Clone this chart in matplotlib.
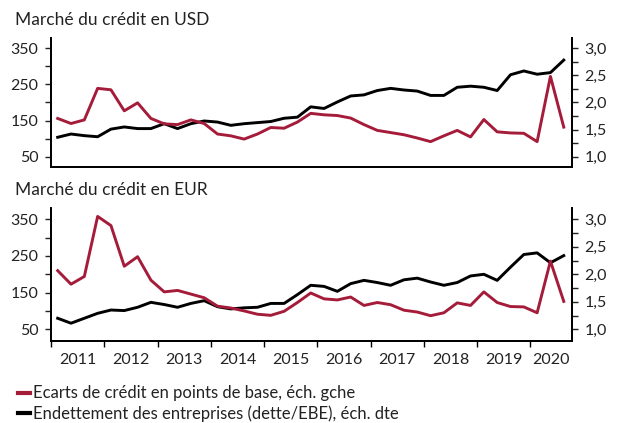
import numpy as np
import matplotlib.pyplot as plt
import matplotlib.ticker as mtick

plt.rcParams['font.family'] = ['Lato', 'DejaVu Sans']

RED = "#A51C3A"

# quarterly points, mid-quarter, Q1 2011 .. Q3 2020
dates = 2011.125 + 0.25 * np.arange(39)

usd_spread = [156, 142, 152, 239, 235, 177, 199, 156, 141, 139, 152, 142, 113,
              108, 99, 113, 131, 129, 146, 170, 166, 164, 157, 139, 123, 117,
              111, 102, 92, 108, 123, 105, 153, 119, 116, 115, 92, 272, 132]
usd_debt = [1.36, 1.42, 1.39, 1.37, 1.51, 1.55, 1.52, 1.52, 1.61, 1.52, 1.61, 1.66, 1.64,
            1.58, 1.61, 1.63, 1.65, 1.71, 1.73, 1.92, 1.89, 2.01, 2.12, 2.14, 2.22, 2.26,
            2.23, 2.21, 2.13, 2.13, 2.28, 2.30, 2.28, 2.22, 2.51, 2.58, 2.52, 2.55, 2.78]

eur_spread = [210, 173, 194, 358, 333, 222, 248, 184, 152, 156, 146, 136, 113,
              108, 100, 91, 88, 99, 123, 149, 133, 130, 138, 115, 123, 117,
              102, 97, 87, 95, 122, 115, 152, 123, 112, 111, 95, 236, 126]
eur_debt = [1.20, 1.11, 1.20, 1.29, 1.35, 1.34, 1.40, 1.49, 1.45, 1.40, 1.47, 1.52, 1.41,
            1.37, 1.39, 1.40, 1.47, 1.47, 1.63, 1.80, 1.78, 1.69, 1.83, 1.89, 1.85, 1.80,
            1.90, 1.93, 1.86, 1.80, 1.85, 1.97, 2.00, 1.89, 2.13, 2.36, 2.39, 2.21, 2.34]

years = list(range(2011, 2021))
titles = ["Marché du crédit en USD", "Marché du crédit en EUR"]
legend_labels = ["Ecarts de crédit en points de base, éch. gche",
                 "Endettement des entreprises (dette/EBE), éch. dte"]

XMIN, XMAX = 2011.0, 2020.78

fig = plt.figure(figsize=(6.17, 4.23), dpi=100)

panels = [
    (usd_spread, usd_debt, [0.0827, 0.6052, 0.8444, 0.3050], (22, 378)),
    (eur_spread, eur_debt, [0.0827, 0.1939, 0.8444, 0.3144], (18, 381)),
]

for i, (spread, debt, rect, ylim) in enumerate(panels):
    ax = fig.add_axes(rect)
    ax2 = ax.twinx()
    ax.plot(dates, spread, color=RED, lw=2.1, zorder=3)
    ax2.plot(dates, debt, color="black", lw=2.1)
    ax.set_zorder(ax2.get_zorder() + 1)
    ax.patch.set_visible(False)

    ax.set_xlim(XMIN, XMAX)
    ax.set_ylim(*ylim)
    ax2.set_ylim(1 + (ylim[0] - 50) / 150, 1 + (ylim[1] - 50) / 150)

    for a in (ax, ax2):
        a.spines["top"].set_visible(False)
        for s in a.spines.values():
            s.set_linewidth(1.3)

    ax.set_yticks([50, 150, 250, 350])
    ax.yaxis.set_minor_locator(mtick.FixedLocator([100, 200, 300]))
    ax2.set_yticks([1.0, 1.5, 2.0, 2.5, 3.0])
    ax2.yaxis.set_minor_locator(mtick.FixedLocator([1.25, 1.75, 2.25, 2.75]))
    ax2.yaxis.set_major_formatter(
        mtick.FuncFormatter(lambda v, p: f"{v:.1f}".replace(".", ","))
    )
    ax.tick_params(axis="y", which="both", length=4, width=1, labelsize=11.5,
                   pad=5, colors="#222222")
    ax2.tick_params(axis="y", which="both", length=4, width=1, labelsize=11.5,
                    pad=5, colors="#222222")

    if i == 0:
        ax.set_xticks([])
    else:
        ax.set_xticks(years)
        ax.set_xticklabels([])
        centers = [y + 0.5 for y in years[:-1]] + [(2020 + XMAX) / 2]
        ax.xaxis.set_minor_locator(mtick.FixedLocator(centers))
        ax.xaxis.set_minor_formatter(mtick.FixedFormatter([str(y) for y in years]))
        ax.tick_params(axis="x", which="major", length=4, width=1)
        ax.tick_params(axis="x", which="minor", length=0, labelsize=11.5,
                       pad=9, colors="#222222")

    fig.text(0.024, 0.953 if i == 0 else 0.55, titles[i], fontsize=12.5,
             color="#222222", va="center")

handles = [plt.Line2D([], [], color=RED, lw=3),
           plt.Line2D([], [], color="black", lw=3)]
fig.legend(handles, legend_labels, loc="upper left", bbox_to_anchor=(0.029, 0.089),
           frameon=False, handlelength=0.75, handletextpad=0.15, labelspacing=0.22,
           fontsize=12, borderaxespad=0, borderpad=0, labelcolor="#222222")

fig.savefig("out.png", dpi=100)
